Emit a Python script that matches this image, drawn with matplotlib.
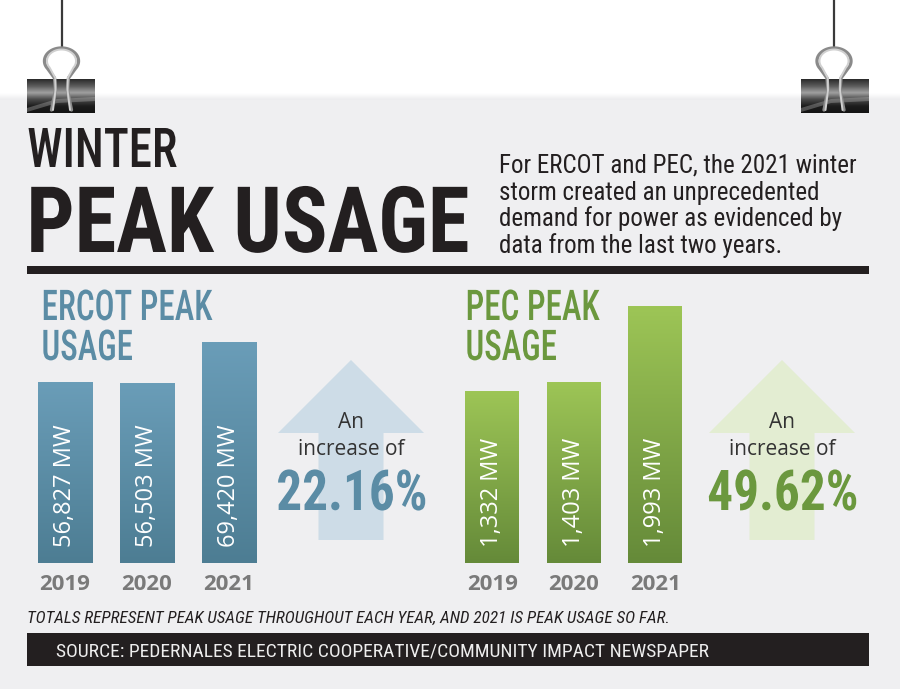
import matplotlib
matplotlib.use("Agg")
import matplotlib.pyplot as plt
import numpy as np
from matplotlib import font_manager as fm
from matplotlib.patches import Rectangle, FancyArrow, Polygon
from matplotlib.colors import LinearSegmentedColormap
from matplotlib.patheffects import AbstractPathEffect
from matplotlib.transforms import Affine2D

# data
years = ["2019", "2020", "2021"]
ercot_mw = [56827, 56503, 69420]
pec_mw = [1332, 1403, 1993]
ercot_increase = "22.16%"
pec_increase = "49.62%"

title_top = "WINTER"
title_main = "PEAK USAGE"
intro_lines = ["For ERCOT and PEC, the 2021 winter",
               "storm created an unprecedented",
               "demand for power as evidenced by",
               "data from the last two years."]
note = "TOTALS REPRESENT PEAK USAGE THROUGHOUT EACH YEAR, AND 2021 IS PEAK USAGE SO FAR."
source = "SOURCE: PEDERNALES ELECTRIC COOPERATIVE/COMMUNITY IMPACT NEWSPAPER"

# fonts
names = {f.name for f in fm.fontManager.ttflist}
narrow = next((n for n in ["Liberation Sans Narrow", "DejaVu Sans Condensed",
                           "Roboto Condensed", "Open Sans Condensed"] if n in names),
              "DejaVu Sans")
body = "Open Sans" if "Open Sans" in names else "DejaVu Sans"


class Squeeze(AbstractPathEffect):
    """Narrow the drawn glyphs horizontally (the headline face is very condensed)."""

    def __init__(self, sx, center=False):
        super().__init__()
        self.sx = sx
        self.center = center

    def draw_path(self, renderer, gc, tpath, affine, rgbFace=None):
        ext = tpath.get_extents(affine)
        ox = (ext.x0 + ext.x1) / 2 if self.center else ext.x0
        t = affine + Affine2D().translate(-ox, 0).scale(self.sx, 1).translate(ox, 0)
        renderer.draw_path(gc, tpath, t, rgbFace)


W, H = 900, 689
INK = "#231f20"
BLUE = "#5b8ca5"
GREEN = "#6b983e"

fig = plt.figure(figsize=(W / 100, H / 100), dpi=100)
bg = fig.add_axes([0, 0, 1, 1])
bg.set_xlim(0, W)
bg.set_ylim(H, 0)
bg.axis("off")

# panel
bg.add_patch(Rectangle((0, 100), W, H - 100, color="#efeff1", zorder=0))
shade = np.linspace(0, 1, 30).reshape(-1, 1)
bg.imshow(shade, extent=[0, W, 100, 93],
          cmap=LinearSegmentedColormap.from_list("s", ["#ffffff", "#ececee"]),
          aspect="auto", zorder=0.5)


def clip(cx, left):
    bg.plot([cx, cx], [0, 47], color="#3a3a3a", lw=1.6, zorder=1)
    # body with glossy gradient
    cols = ["#2b2b2b", "#5c5c5c", "#a0a0a0", "#4a4a4a", "#1d1d1d", "#141414"]
    cmap = LinearSegmentedColormap.from_list("c", cols)
    bg.imshow(np.linspace(0, 1, 64).reshape(-1, 1), extent=[left, left + 68, 113, 79],
              cmap=cmap, aspect="auto", zorder=2)
    bg.add_patch(Polygon([[left, 108], [left + 30, 99], [left + 68, 97],
                          [left + 68, 101], [left + 30, 103], [left, 112]],
                         color="#bbbbbb", alpha=0.35, lw=0, zorder=2.5))
    th = np.radians(np.linspace(-35, 215, 60))
    for off, col, lw in [(0, "#8a8a8a", 2.4), (2.5, "#d0d0d0", 1.4)]:
        rx, ry = 17 - off, 13 - off * 0.6
        ax_ = cx + rx * np.cos(th)
        ay_ = 61 - ry * np.sin(th)
        lx = [cx - 10 + off * 0.6, cx - 6, cx - 7 + off * 0.3]
        ly = [110, 90, 78]
        xs = np.concatenate([lx, ax_[::-1], [cx + 7 - off * 0.3, cx + 6, cx + 10 - off * 0.6]])
        ys = np.concatenate([ly, ay_[::-1], [78, 90, 110]])
        bg.plot(xs, ys, color=col, lw=lw, zorder=3, solid_capstyle="round")


clip(61.5, 27)
clip(834, 801)

# titles
bg.text(27, 167, title_top, family=narrow, fontsize=39.5, fontweight="medium",
        color=INK, va="baseline", path_effects=[Squeeze(0.855)])
bg.text(26, 252, title_main, family=narrow, fontsize=66, fontweight="bold",
        color=INK, va="baseline", path_effects=[Squeeze(0.925)])
for i, line in enumerate(intro_lines):
    bg.text(499, 173 + i * 26.7, line, family=narrow, fontsize=18, color=INK,
            va="baseline")
bg.add_patch(Rectangle((27, 266), 842, 8, color=INK, lw=0))

# section headings
for (x0, words, col) in [(41, ["ERCOT PEAK", "USAGE"], BLUE),
                         (465, ["PEC PEAK", "USAGE"], GREEN)]:
    for j, w in enumerate(words):
        bg.text(x0, 320 + j * 40, w, family=narrow, fontsize=30.5, fontweight="medium",
                color=col, va="baseline", path_effects=[Squeeze(0.78)])


def px_axes(left, top, width, height):
    return fig.add_axes([left / W, 1 - (top + height) / H, width / W, height / H])


def bar_panel(ax, vals, ymax, top_col, bot_col):
    x = np.arange(len(vals))
    bars = ax.bar(x, vals, width=0.66, color=bot_col, zorder=1)
    cmap = LinearSegmentedColormap.from_list("g", [bot_col, top_col])
    g = np.linspace(0, 1, 128).reshape(-1, 1)
    for b, v in zip(bars, vals):
        ax.imshow(g, extent=[b.get_x(), b.get_x() + b.get_width(), 0, b.get_height()],
                  origin="lower", cmap=cmap, aspect="auto", zorder=2)
        ax.annotate(f"{v:,} MW", xy=(b.get_x() + b.get_width() / 2, 0),
                    xytext=(0, 16), textcoords="offset pixels", rotation=90,
                    ha="center", va="bottom", color="white", family=body,
                    fontsize=17, zorder=3)
    ax.set_xlim(-0.5, len(vals) - 0.5)
    ax.set_ylim(0, ymax)
    ax.set_xticks(x, years)
    ax.set_yticks([])
    ax.tick_params(axis="x", length=0, pad=8)
    for lab in ax.get_xticklabels():
        lab.set_fontfamily(body)
        lab.set_fontweight("bold")
        lab.set_fontsize(16)
        lab.set_color("#7a7a7a")
    for s in ax.spines.values():
        s.set_visible(False)
    ax.patch.set_alpha(0)


ax1 = px_axes(24, 339, 246, 224)
bar_panel(ax1, ercot_mw, 70500, "#6a9db8", "#4d7d93")
ax2 = px_axes(451.5, 302, 244.5, 261)
bar_panel(ax2, pec_mw, 2030, "#9dc556", "#658a39")


def up_arrow(cx, col, pct, pct_col):
    bg.add_patch(FancyArrow(cx, 540, 0, -180, width=65, head_width=146,
                            head_length=73, length_includes_head=True,
                            color=col, lw=0, zorder=1))
    bg.text(cx, 428, "An", family=body, fontsize=15, color="#333333",
            ha="center", va="baseline")
    bg.text(cx, 455, "increase of", family=body, fontsize=15, color="#333333",
            ha="center", va="baseline")
    bg.text(cx + 1, 510, pct, family=narrow, fontsize=40.5, fontweight="bold",
            color=pct_col, ha="center", va="baseline",
            path_effects=[Squeeze(0.91, center=True)])


up_arrow(351, "#cddce7", ercot_increase, BLUE)
up_arrow(782, "#e3edd2", pec_increase, GREEN)

# footer
bg.text(27, 623, note, family=narrow, fontsize=12.3, style="italic", color=INK,
        va="baseline")
bg.add_patch(Rectangle((27, 633), 842, 33, color=INK, lw=0))
bg.text(56, 657, source, family=narrow, fontsize=14, color="#eeeeee", va="baseline")

fig.savefig("out.png", dpi=100)
